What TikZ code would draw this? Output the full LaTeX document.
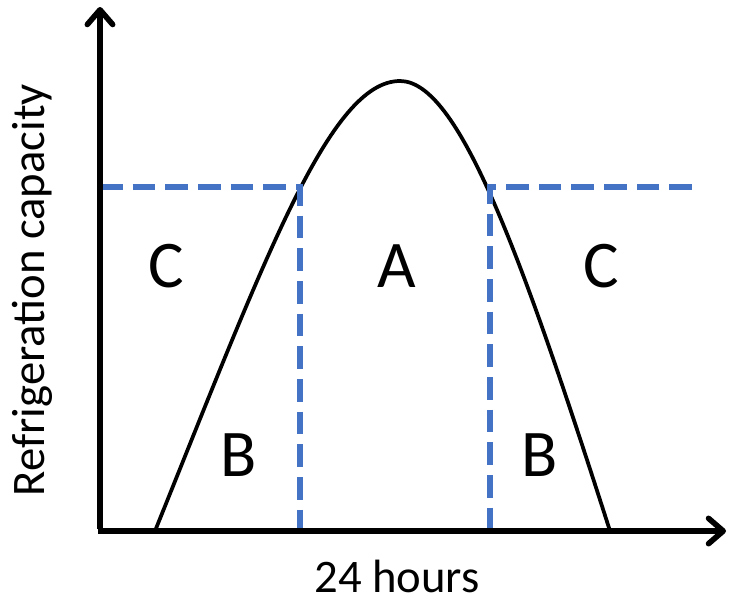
\documentclass[tikz,border=0pt]{standalone}
\usepackage{fontspec}
\setmainfont{Carlito}
\usepackage{tikz}
\usetikzlibrary{arrows.meta, positioning}
\definecolor{figblue}{HTML}{4472C4}
\tikzset{
  figaxis/.style={line width=4.2pt, black, -{Straight Barb[round, length=11pt, width=19pt]}},
  figcurve/.style={line width=2.8pt, black},
  figdash/.style={line width=4.4pt, figblue, dash pattern=on 17pt off 7.5pt},
  figregion/.style={font=\fontsize{50}{54}\selectfont, inner sep=0pt},
  figlabel/.style={font=\fontsize{35}{40}\selectfont, inner sep=0pt},
}
\begin{document}
\begin{tikzpicture}[x=0.75pt, y=-0.75pt]
  \useasboundingbox (0,0) rectangle (730,604);
  \coordinate (orig) at (100,531);
  \coordinate (ytip) at (100,7);
  \coordinate (xtip) at (726,531);
  \coordinate (lbase) at (155,531);
  \coordinate (peak) at (400,81);
  \coordinate (rbase) at (610,531);
  \coordinate (lcut) at (300,187);
  \coordinate (rcut) at (490,187);
  \coordinate (lleft) at (100,187);
  \coordinate (rright) at (692,187);
  \coordinate (lfoot) at (300,531);
  \coordinate (rfoot) at (490,531);
  % capacity curve
  \draw[figcurve] (lbase) .. controls (265,258) and (330,81) .. (peak)
    .. controls (458,81) and (520,250) .. (rbase);
  % threshold lines
  \draw[figdash] (lleft) -- (lcut) -- (lfoot);
  \draw[figdash] (rright) -- (rcut) -- (rfoot);
  % axes
  \draw[figaxis] ([yshift=1.6pt]orig) -- (ytip);
  \draw[figaxis] ([xshift=-1.6pt]orig) -- (xtip);
  \node[figregion] (c1) at (166,266) {C};
  \node[figregion] (a) at (397,266) {A};
  \node[figregion] (c2) at (601,266) {C};
  \node[figregion] (b1) at (239,455) {B};
  \node[figregion] (b2) at (540,455) {B};
  \node[figlabel] (xlab) at (397,576) {24 hours};
  \node[figlabel, rotate=90] (ylab) at (32,290) {Refrigeration capacity};
\end{tikzpicture}
\end{document}
